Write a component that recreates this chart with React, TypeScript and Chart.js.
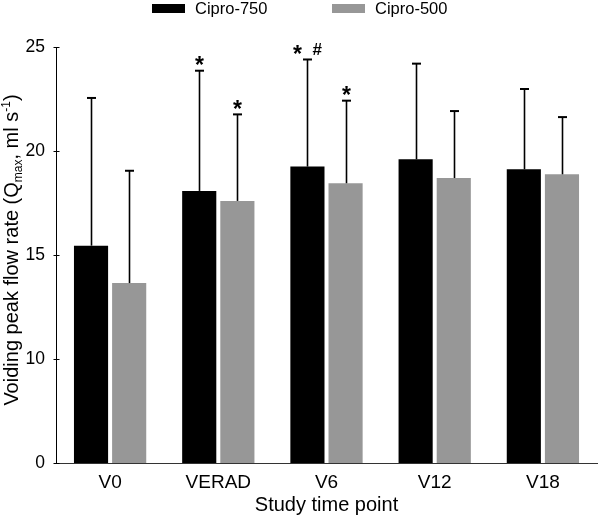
import React, { useEffect, useRef } from "react";
import { Chart, registerables } from "chart.js";

Chart.register(...registerables);

// ---- data ----
const categories = ["V0", "VERAD", "V6", "V12", "V18"];
const seriesNames = ["Cipro-750", "Cipro-500"];
const cipro750Mean = [15.45, 18.08, 19.25, 19.6, 19.12];
const cipro750Upper = [22.55, 23.86, 24.4, 24.2, 22.98];
const cipro500Mean = [13.65, 17.6, 18.45, 18.7, 18.88];
const cipro500Upper = [19.05, 21.76, 22.42, 21.92, 21.63];
// significance markers drawn above each error bar
const cipro750Marks = ["", "*", "*#", "", ""];
const cipro500Marks = ["", "*", "*", "", ""];
// broken y axis: these labelled values are equally spaced
const yTickValues = [0, 10, 15, 20, 25];

const seriesColors = ["#000000", "#979797"];
const FONT = "'Liberation Sans', Arial, Helvetica, sans-serif";
const STEP = 5;

// piecewise-linear mapping of a real value onto the equally spaced broken axis
function toAxis(v: number): number {
  for (let i = 0; i < yTickValues.length - 1; i++) {
    const a = yTickValues[i];
    const b = yTickValues[i + 1];
    if (v <= b || i === yTickValues.length - 2) {
      return i * STEP + ((v - a) / (b - a)) * STEP;
    }
  }
  return 0;
}

const means = [cipro750Mean, cipro500Mean];
const uppers = [cipro750Upper, cipro500Upper];
const marks = [cipro750Marks, cipro500Marks];

function drawCentered(ctx: CanvasRenderingContext2D, text: string, cx: number, cy: number) {
  const m = ctx.measureText(text);
  const asc = m.actualBoundingBoxAscent;
  const desc = m.actualBoundingBoxDescent;
  const left = m.actualBoundingBoxLeft;
  const right = m.actualBoundingBoxRight;
  ctx.textAlign = "left";
  ctx.textBaseline = "alphabetic";
  ctx.fillText(text, cx - (right - left) / 2, cy + (asc - desc) / 2);
}

const overlayPlugin = {
  id: "overlay",
  afterDatasetsDraw(chart: any) {
    const ctx: CanvasRenderingContext2D = chart.ctx;
    const yScale = chart.scales.y;
    ctx.save();
    ctx.strokeStyle = "#000";
    ctx.fillStyle = "#000";
    for (let d = 0; d < means.length; d++) {
      const meta = chart.getDatasetMeta(d);
      meta.data.forEach((el: any, i: number) => {
        const topPx = yScale.getPixelForValue(toAxis(uppers[d][i]));
        const x = Math.round(el.x) + 0.5;
        ctx.lineWidth = 1.6;
        ctx.beginPath();
        ctx.moveTo(x, el.y);
        ctx.lineTo(x, topPx);
        ctx.stroke();
        ctx.lineWidth = 2;
        ctx.beginPath();
        ctx.moveTo(x - 4.5, topPx);
        ctx.lineTo(x + 4.5, topPx);
        ctx.stroke();
        const chars = Array.from(marks[d][i]);
        chars.forEach((ch, k) => {
          const off = chars.length > 1 ? (k - (chars.length - 1) / 2) * 20 : 0;
          ctx.font = ch === "*" ? `bold 23px ${FONT}` : `bold 17px ${FONT}`;
          drawCentered(ctx, ch, x + off, topPx - 10);
        });
      });
    }
    ctx.restore();
  },
  afterDraw(chart: any) {
    const ctx: CanvasRenderingContext2D = chart.ctx;
    const yScale = chart.scales.y;
    const area = chart.chartArea;
    ctx.save();
    // y tick marks crossing the axis
    ctx.strokeStyle = "#000";
    ctx.lineWidth = 1;
    const ax = Math.round(area.left) + 0.5;
    yScale.ticks.forEach((t: any) => {
      const py = Math.round(yScale.getPixelForValue(t.value)) + 0.5;
      ctx.beginPath();
      ctx.moveTo(ax - 3, py);
      ctx.lineTo(ax + 3, py);
      ctx.stroke();
    });

    // legend
    ctx.font = `16.5px ${FONT}`;
    ctx.textBaseline = "middle";
    ctx.textAlign = "left";
    const legendX = [152, 332];
    seriesNames.forEach((name, i) => {
      ctx.fillStyle = seriesColors[i];
      ctx.fillRect(legendX[i], 4, 33, 9);
      ctx.fillStyle = "#000";
      ctx.fillText(name, legendX[i] + 43, 9);
    });

    // y axis title with subscript / superscript
    const big = 20;
    const small = 12;
    const parts: { t: string; size: number; dy: number }[] = [
      { t: "Voiding peak flow rate (Q", size: big, dy: 0 },
      { t: "max", size: small, dy: 4 },
      { t: ", ml s", size: big, dy: 0 },
      { t: "-1", size: small, dy: -8 },
      { t: ")", size: big, dy: 0 },
    ];
    let total = 0;
    const widths = parts.map((p) => {
      ctx.font = `${p.size}px ${FONT}`;
      const w = ctx.measureText(p.t).width;
      total += w;
      return w;
    });
    ctx.translate(17.5, 250);
    ctx.rotate(-Math.PI / 2);
    ctx.fillStyle = "#000";
    ctx.textBaseline = "alphabetic";
    let cx = -total / 2;
    parts.forEach((p, i) => {
      ctx.font = `${p.size}px ${FONT}`;
      ctx.fillText(p.t, cx, p.dy);
      cx += widths[i];
    });
    ctx.restore();
  },
};

export default function App() {
  const canvasRef = useRef<HTMLCanvasElement | null>(null);

  useEffect(() => {
    const canvas = canvasRef.current;
    if (!canvas) return;
    const chart = new Chart(canvas, {
      type: "bar",
      data: {
        labels: categories,
        datasets: seriesNames.map((name, d) => ({
          label: name,
          data: means[d].map(toAxis),
          backgroundColor: seriesColors[d],
          borderWidth: 0,
          categoryPercentage: 0.705,
          barPercentage: 0.895,
        })),
      },
      options: {
        animation: false,
        responsive: false,
        maintainAspectRatio: false,
        devicePixelRatio: 1,
        layout: { padding: { top: 47, right: 3, left: 0, bottom: 0 } },
        plugins: {
          legend: { display: false },
          tooltip: { enabled: false },
        },
        scales: {
          x: {
            grid: { display: false, drawTicks: false },
            border: { display: true, color: "#333", width: 1 },
            ticks: {
              color: "#000",
              font: { family: FONT, size: 19 },
              padding: 8,
            },
            title: {
              display: true,
              text: "Study time point",
              color: "#000",
              font: { family: FONT, size: 20 },
              padding: { top: 0, bottom: 0 },
            },
            afterFit: (s: any) => {
              s.height = 54;
            },
          },
          y: {
            min: 0,
            max: (yTickValues.length - 1) * STEP,
            grid: { display: false, drawTicks: false },
            border: { display: true, color: "#000", width: 1 },
            ticks: {
              stepSize: STEP,
              padding: 11,
              color: "#000",
              font: { family: FONT, size: 17.5 },
              callback: (v: any) => String(yTickValues[Math.round(Number(v) / STEP)] ?? ""),
            },
            afterFit: (s: any) => {
              s.width = 56;
            },
          },
        },
      },
      plugins: [overlayPlugin],
    } as any);
    return () => chart.destroy();
  }, []);

  return (
    <div style={{ position: "absolute", left: 0, top: 0, width: 600, height: 517, background: "#fff" }}>
      <canvas ref={canvasRef} width={600} height={517} style={{ display: "block", width: 600, height: 517 }} />
    </div>
  );
}
